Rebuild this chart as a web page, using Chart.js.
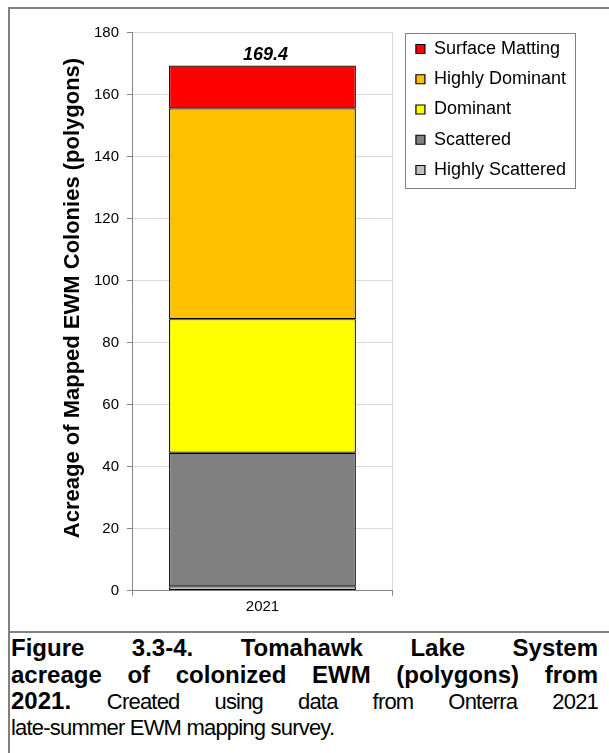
<!DOCTYPE html>
<html>
<head>
<meta charset="utf-8">
<script src="https://cdn.jsdelivr.net/npm/chart.js@4/dist/chart.umd.min.js"></script>
<style>
  html, body { margin: 0; padding: 0; background: #fff; }
  body { width: 609px; height: 753px; position: relative; overflow: hidden; font-family: 'Liberation Sans', Arial, sans-serif; }
  #frame { position: absolute; left: 8px; top: 7px; width: 640px; height: 800px; border-left: 2px solid #808080; border-top: 2px solid #808080; }
  #divider { position: absolute; left: 8px; top: 631px; width: 640px; border-top: 2px solid #808080; }
  #chartBox { position: absolute; left: 0; top: 0; width: 609px; height: 632px; }
  #caption { position: absolute; left: 11px; top: 635px; width: 587px; font-size: 22px; line-height: 26.6px; color: #000; }
  #caption .ln { text-align: justify; text-align-last: justify; white-space: nowrap; height: 26.6px; }
  #caption .ln.last { text-align: left; text-align-last: left; }
  #caption b { font-weight: bold; font-size: 24px; letter-spacing: 0; }
  #caption span { letter-spacing: -0.8px; }
</style>
</head>
<body>
<div id="frame"></div>
<div id="divider"></div>
<div id="chartBox"><canvas id="chart"></canvas></div>
<div id="caption">
  <div class="ln"><b>Figure 3.3-4. Tomahawk Lake System</b></div>
  <div class="ln"><b>acreage of colonized EWM (polygons) from</b></div>
  <div class="ln"><b>2021.</b> <span>Created using data from Onterra 2021</span></div>
  <div class="ln last"><span>late-summer EWM mapping survey.</span></div>
</div>
<script>
// Survey year and acreage per colony density class
const categories = ['2021'];
const seriesNames = ['Highly Scattered', 'Scattered', 'Dominant', 'Highly Dominant', 'Surface Matting'];
const highlyScattered = [1.4];
const scattered = [43.1];
const dominant = [43.1];
const highlyDominant = [68.0];
const surfaceMatting = [13.8];
const yAxisMax = 180;
const yAxisStep = 20;
const yAxisTitle = 'Acreage of Mapped EWM Colonies (polygons)';

const seriesValues = [highlyScattered, scattered, dominant, highlyDominant, surfaceMatting];
const seriesColors = ['#c0c0c0', '#808080', '#ffff00', '#ffc000', '#ff0000'];

const FONT = "'Liberation Sans', Arial, sans-serif";
Chart.defaults.font.family = FONT;
Chart.defaults.color = '#000';

const datasets = seriesNames.map((name, i) => ({
  label: name,
  data: seriesValues[i],
  backgroundColor: seriesColors[i],
  borderColor: '#000',
  borderWidth: 1.2,
  borderSkipped: false,
  xAxisID: 'x',
  yAxisID: 'y',
  barPercentage: 0.716,
  categoryPercentage: 1.0
}));

// Bordered frame around the legend entries
const legendFrame = {
  id: 'legendFrame',
  afterDraw(chart) {
    const lg = chart.legend;
    if (!lg || !lg.legendHitBoxes || !lg.legendHitBoxes.length) return;
    const hb = lg.legendHitBoxes;
    const left = hb[0].left - 11;
    const top = hb[0].top - 7.5;
    let right = 0;
    hb.forEach(h => { right = Math.max(right, h.left + h.width); });
    right += 9;
    const last = hb[hb.length - 1];
    const bottom = last.top + last.height + 8;
    const ctx = chart.ctx;
    ctx.save();
    ctx.strokeStyle = '#808080';
    ctx.lineWidth = 1;
    ctx.strokeRect(Math.round(left) + 0.5, Math.round(top) + 0.5, Math.round(right - left), Math.round(bottom - top));
    ctx.restore();
  }
};

// Stack total above the bar
const totalLabel = {
  id: 'totalLabel',
  afterDatasetsDraw(chart) {
    const ctx = chart.ctx;
    const topIndex = chart.data.datasets.length - 1;
    const meta = chart.getDatasetMeta(topIndex);
    categories.forEach((c, i) => {
      const bar = meta.data[i];
      if (!bar) return;
      const total = seriesValues.reduce((s, arr) => s + arr[i], 0);
      ctx.save();
      ctx.font = 'italic bold 18px ' + FONT;
      ctx.fillStyle = '#000';
      ctx.textAlign = 'center';
      ctx.textBaseline = 'alphabetic';
      ctx.fillText(total.toFixed(1), bar.x + 3, bar.y - 6);
      ctx.restore();
    });
  }
};

// Rotated value-axis title
const yTitle = {
  id: 'yTitle',
  afterDraw(chart) {
    const ctx = chart.ctx;
    ctx.save();
    ctx.translate(73, 298);
    ctx.rotate(-Math.PI / 2);
    ctx.font = 'bold 22px ' + FONT;
    ctx.fillStyle = '#000';
    ctx.textAlign = 'center';
    ctx.textBaseline = 'middle';
    ctx.fillText(yAxisTitle, 0, 0);
    ctx.restore();
  }
};

new Chart(document.getElementById('chart'), {
  type: 'bar',
  data: { labels: categories, datasets },
  plugins: [legendFrame, totalLabel, yTitle],
  options: {
    responsive: true,
    maintainAspectRatio: false,
    animation: false,
    layout: { padding: { top: 27.75, right: 33, bottom: 11.3, left: 0 } },
    plugins: {
      legend: {
        position: 'right',
        align: 'start',
        reverse: true,
        maxWidth: 400,
        labels: {
          boxWidth: 9,
          boxHeight: 9,
          padding: 12.25,
          color: '#000',
          font: { size: 18 }
        }
      },
      tooltip: { enabled: false }
    },
    scales: {
      x: {
        type: 'category',
        position: 'bottom',
        stacked: true,
        offset: true,
        grid: {
          display: true,
          offset: true,
          drawOnChartArea: true,
          color: ctx => ctx.index === 0 ? '#868686' : '#d9d9d9',
          tickColor: '#868686',
          tickLength: 5
        },
        border: { display: true, color: '#868686' },
        ticks: { font: { size: 15 }, color: '#000', padding: 2 },
        afterFit(s) { s.height = 30; }
      },
      y: {
        type: 'linear',
        position: 'left',
        stacked: true,
        min: 0,
        max: yAxisMax,
        ticks: { stepSize: yAxisStep, font: { size: 15 }, color: '#000', padding: 8 },
        grid: { color: '#d9d9d9', tickColor: '#868686', tickLength: 5 },
        border: { display: true, color: '#868686' },
        title: { display: false },
        afterFit(s) { s.width = 132; }
      },
      xTopGap: {
        type: 'linear',
        position: 'top',
        axis: 'x',
        display: true,
        grid: { display: false },
        ticks: { display: false },
        border: { display: false },
        afterFit(s) { s.height = 4.95; }
      },
      yRightGap: {
        type: 'linear',
        position: 'right',
        axis: 'y',
        display: true,
        grid: { display: false },
        ticks: { display: false },
        border: { display: false },
        afterFit(s) { s.width = 10.75; }
      }
    }
  }
});
</script>
</body>
</html>
